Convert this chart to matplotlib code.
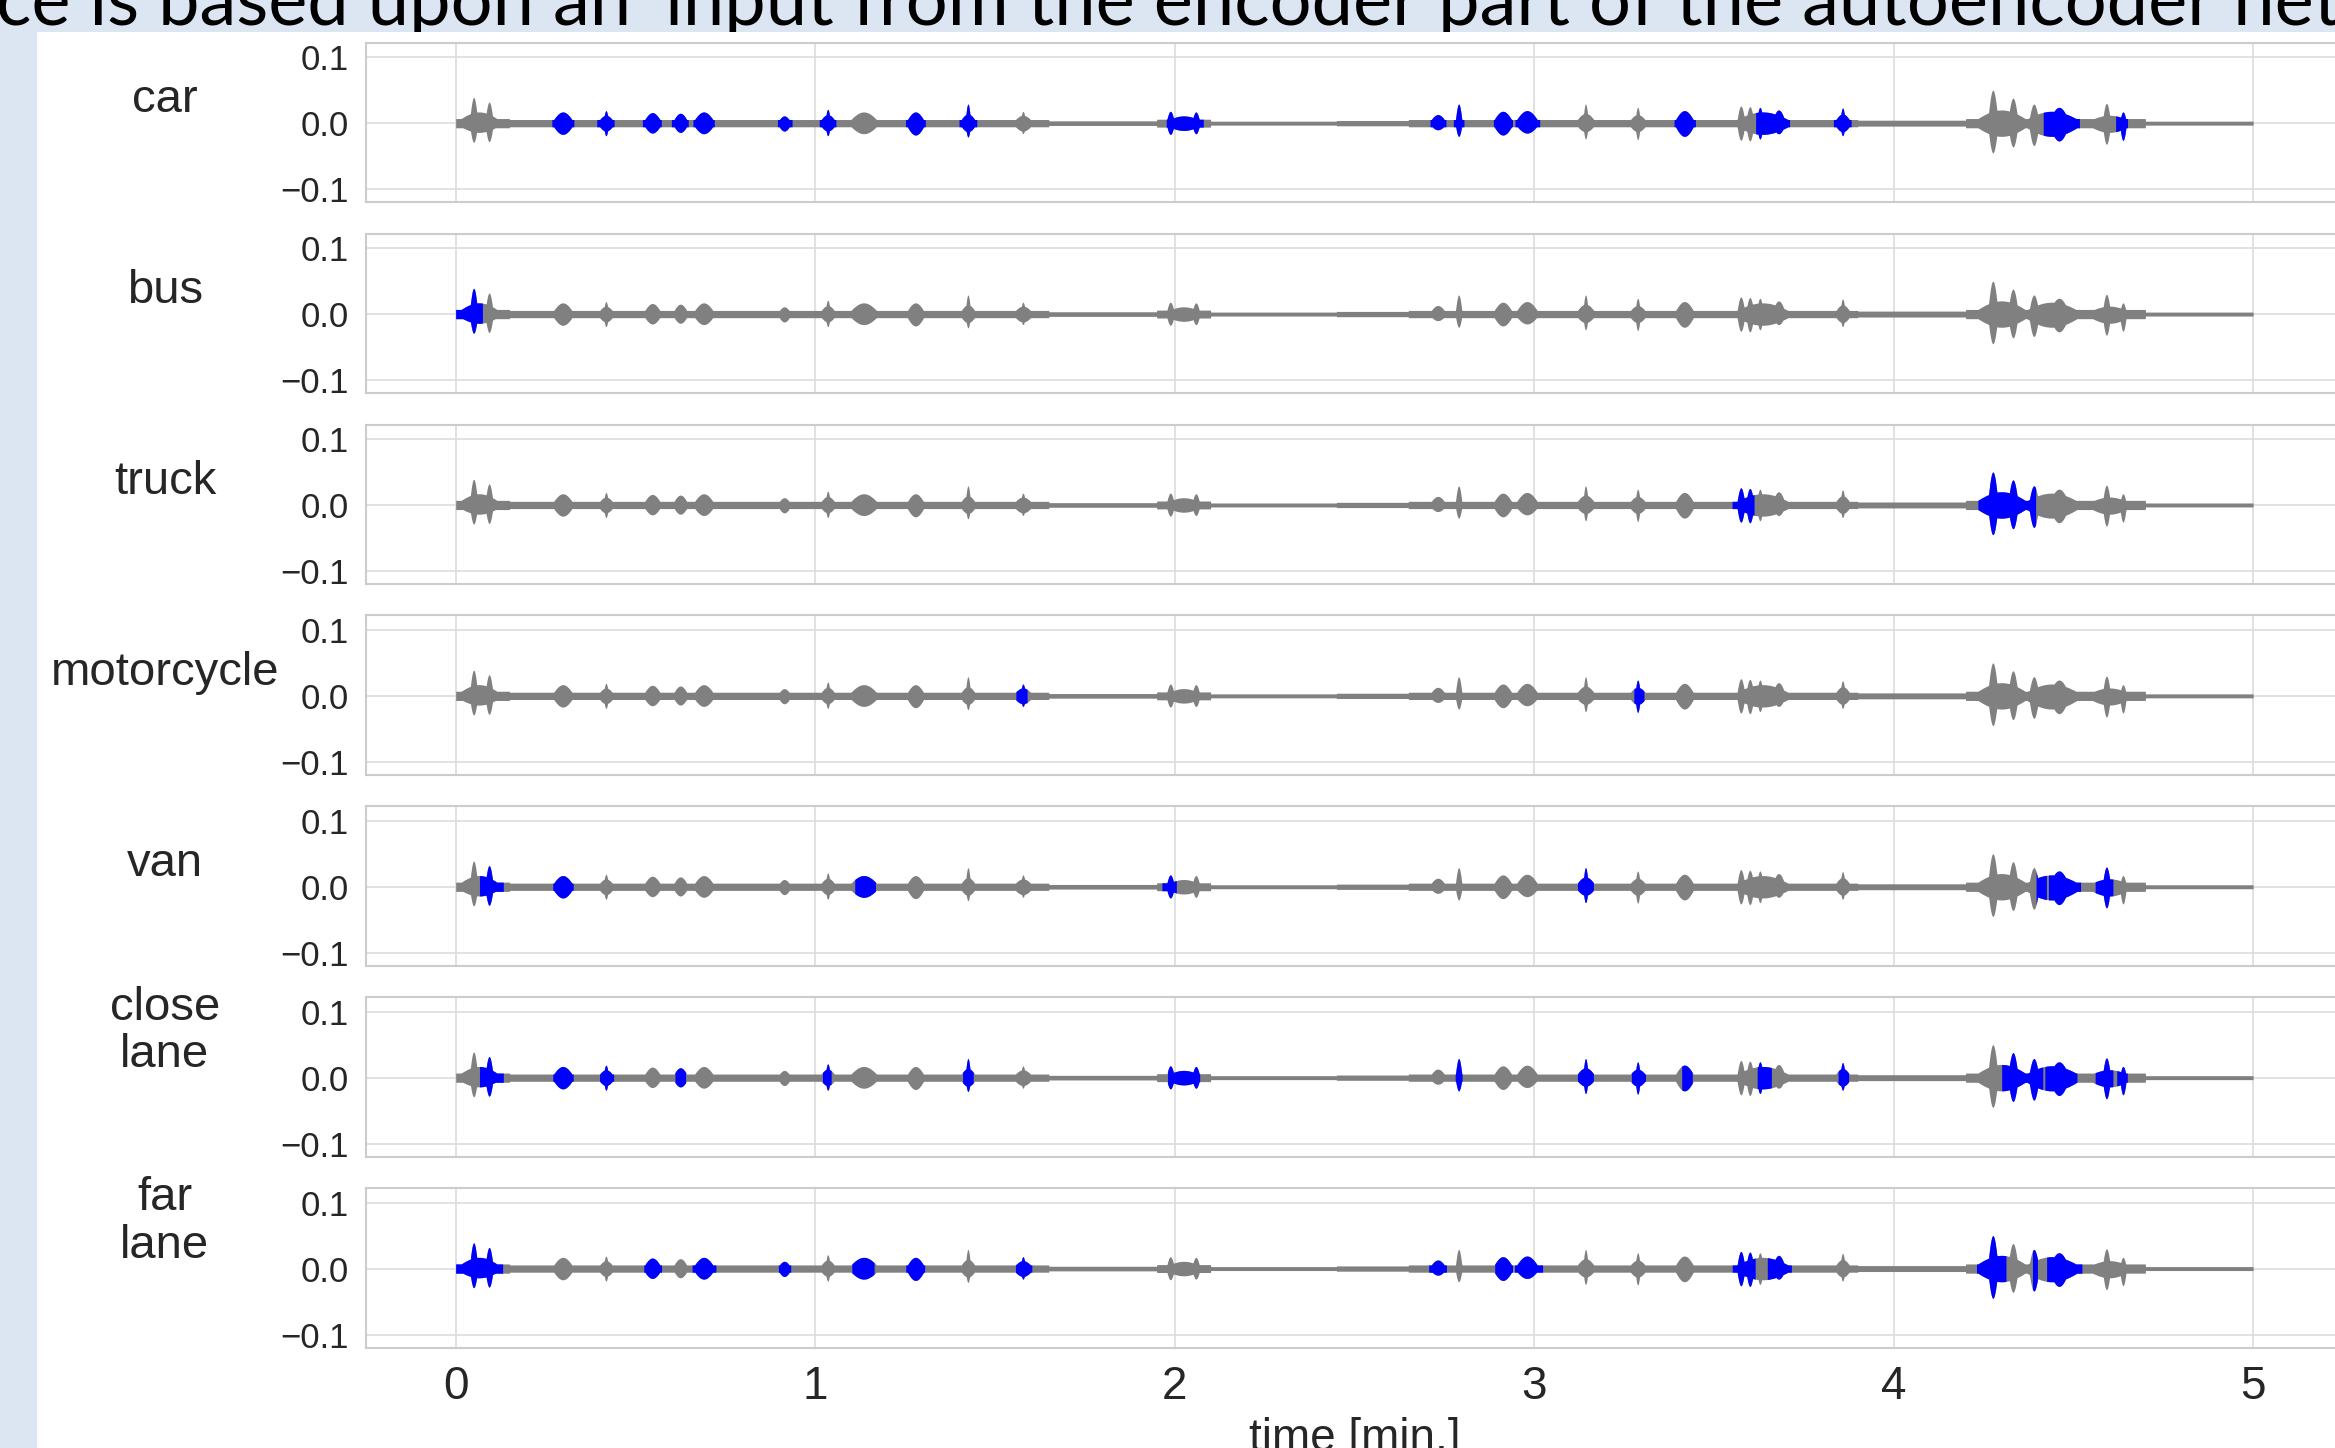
import numpy as np
import matplotlib
matplotlib.use("Agg")
import matplotlib.pyplot as plt
from matplotlib.patches import Rectangle

classes = ["car", "bus", "truck", "motorcycle", "van", "close\nlane", "far\nlane"]

# sound bursts: centre [min], half width [min], upper / lower amplitude
burst_t  = [0.065, 0.05, 0.093, 0.298, 0.418, 0.418, 0.547, 0.625, 0.69, 0.914, 1.035, 1.035,
            1.135, 1.279, 1.425, 1.425, 1.578, 1.578, 2.025, 1.988, 2.059, 2.732, 2.79, 2.913,
            2.98, 3.143, 3.143, 3.288, 3.288, 3.418, 3.635, 3.575, 3.60, 3.628, 3.68, 3.858,
            3.858, 4.30, 4.44, 4.60, 4.276, 4.332, 4.39, 4.46, 4.592, 4.638]
burst_hw = [0.068, 0.012, 0.012, 0.032, 0.025, 0.008, 0.027, 0.023, 0.032, 0.02, 0.025, 0.008,
            0.045, 0.028, 0.025, 0.008, 0.03, 0.008, 0.06, 0.012, 0.012, 0.025, 0.01, 0.03,
            0.035, 0.03, 0.008, 0.028, 0.008, 0.03, 0.09, 0.012, 0.012, 0.01, 0.02, 0.025,
            0.008, 0.085, 0.09, 0.07, 0.015, 0.015, 0.015, 0.03, 0.012, 0.01]
burst_up = [0.017, 0.039, 0.032, 0.017, 0.012, 0.019, 0.016, 0.015, 0.017, 0.011, 0.013, 0.021,
            0.017, 0.017, 0.014, 0.029, 0.012, 0.018, 0.011, 0.018, 0.017, 0.013, 0.029, 0.018,
            0.019, 0.015, 0.029, 0.013, 0.024, 0.019, 0.017, 0.026, 0.025, 0.024, 0.020, 0.014,
            0.023, 0.02, 0.018, 0.012, 0.050, 0.038, 0.029, 0.024, 0.030, 0.017]
burst_dn = [0.014, 0.029, 0.028, 0.017, 0.012, 0.019, 0.015, 0.014, 0.016, 0.012, 0.012, 0.019,
            0.016, 0.018, 0.013, 0.021, 0.012, 0.016, 0.011, 0.017, 0.016, 0.010, 0.020, 0.018,
            0.015, 0.013, 0.024, 0.013, 0.025, 0.020, 0.017, 0.026, 0.027, 0.024, 0.016, 0.013,
            0.019, 0.02, 0.02, 0.014, 0.045, 0.036, 0.034, 0.027, 0.032, 0.026]

# background noise level between the bursts
floor_edges = [0, 0.15, 1.65, 1.95, 2.1, 2.45, 2.65, 3.9, 4.2, 4.7, 5.0]
floor_amp   = [0.007, 0.0055, 0.0035, 0.006, 0.003, 0.004, 0.0055, 0.0045, 0.007, 0.003]

# parts detected per class [min]
blue_car = [(0.267, 0.329), (0.392, 0.441), (0.519, 0.572), (0.60, 0.647), (0.66, 0.72),
            (0.895, 0.936), (1.011, 1.058), (1.251, 1.307), (1.40, 1.45), (1.976, 2.08),
            (2.71, 2.755), (2.775, 2.805), (2.886, 2.94), (2.946, 3.016), (3.389, 3.449),
            (3.616, 3.711), (3.832, 3.882), (4.416, 4.517), (4.617, 4.651)]
blue_bus = [(0.0, 0.075)]
blue_truck = [(3.55, 3.612), (4.234, 4.395)]
blue_moto = [(1.558, 1.59), (3.277, 3.306)]
blue_van = [(0.066, 0.133), (0.27, 0.327), (1.11, 1.168), (1.964, 2.005), (3.12, 3.165),
            (4.396, 4.425), (4.43, 4.52), (4.56, 4.61)]
blue_close = [(0.066, 0.133), (0.27, 0.327), (0.40, 0.44), (0.61, 0.64), (1.02, 1.045),
              (1.41, 1.44), (1.98, 2.07), (2.78, 2.80), (3.12, 3.165), (3.27, 3.31),
              (3.41, 3.44), (3.62, 3.66), (3.845, 3.875), (4.30, 4.415), (4.42, 4.51),
              (4.56, 4.61), (4.62, 4.65)]
blue_far = [(0.0, 0.131), (0.523, 0.573), (0.657, 0.724), (0.897, 0.932), (1.102, 1.164),
            (1.252, 1.305), (1.557, 1.603), (2.706, 2.756), (2.89, 2.94), (2.945, 3.024),
            (3.551, 3.615), (3.648, 3.716), (4.23, 4.313), (4.386, 4.40), (4.425, 4.524)]
highlights = [blue_car, blue_bus, blue_truck, blue_moto, blue_van, blue_close, blue_far]

xticks = [0, 1, 2, 3, 4, 5]
yticks = [-0.1, 0.0, 0.1]

# envelope of the waveform
t = np.linspace(0, 5, 8000)
idx = np.clip(np.searchsorted(floor_edges, t, side="right") - 1, 0, len(floor_amp) - 1)
up = np.array(floor_amp)[idx]
dn = up.copy()
for c, hw, a, b in zip(burst_t, burst_hw, burst_up, burst_dn):
    u = np.clip(np.abs(t - c) / hw, 0, 1)
    shape = np.cos(np.pi * u / 2)
    up = np.maximum(up, a * shape)
    dn = np.maximum(dn, b * shape)

W, H = 2335, 1448
fig = plt.figure(figsize=(W / 100, H / 100), dpi=100, facecolor="#dce6f2")

# slide title peeking in at the top, then the white picture over it
title = fig.text(-4 / W, 1 - 25 / H,
                 "ce is based upon an 'input from the encoder part of the autoencoder net",
                 family="Lato", fontsize=60, va="baseline", ha="left", color="black", zorder=0.5)
r = fig.canvas.get_renderer()
title.set_fontsize(60 * 2344 / title.get_window_extent(r).width)
fig.patches.append(Rectangle((37 / W, 0), 1, 1 - 32 / H, transform=fig.transFigure,
                             facecolor="white", edgecolor="none", zorder=1))

left, width = 365.8 / W, 1977.2 / W
axh = 159.6
for i, (name, spans) in enumerate(zip(classes, highlights)):
    top = 42.7 + i * 190.9
    ax = fig.add_axes([left, 1 - (top + axh) / H, width, axh / H])
    ax.set_zorder(2)
    ax.set_facecolor("white")
    ax.fill_between(t, -dn, up, color="grey", lw=0)
    for s, e in spans:
        sel = (t >= s) & (t <= e)
        ax.fill_between(t[sel], -dn[sel], up[sel], color="blue", lw=0)
    ax.set_xlim(-0.25, 5.25)
    ax.set_ylim(-0.12, 0.122)
    ax.set_xticks(xticks)
    ax.set_yticks(yticks)
    ax.grid(True, color="#dcdcdc", lw=1.2)
    ax.set_axisbelow(True)
    for sp in ax.spines.values():
        sp.set_color("#cccccc")
        sp.set_linewidth(1.5)
    ax.tick_params(length=0, pad=12.5, labelcolor="#262626")
    for lab in ax.get_yticklabels():
        lab.set_family("Liberation Sans")
        lab.set_fontsize(25)
    if i < len(classes) - 1:
        ax.set_xticklabels([])
    else:
        for lab in ax.get_xticklabels():
            lab.set_family("Liberation Sans")
            lab.set_fontsize(33)
        ax.set_xlabel("time [min.]", family="Liberation Sans", fontsize=33, color="#262626", labelpad=6)
    ax.set_ylabel(name, rotation=0, family="Liberation Sans", fontsize=34, color="#262626",
                  ha="center", va="bottom", linespacing=1.1)
    ax.yaxis.set_label_coords(-0.1016, 0.5)

fig.savefig("out.png", dpi=100, facecolor=fig.get_facecolor())
